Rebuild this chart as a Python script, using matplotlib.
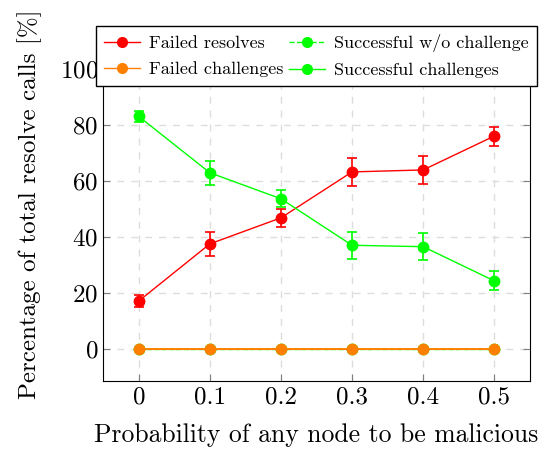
import matplotlib.pyplot as plt
from matplotlib.lines import Line2D

plt.rcParams['font.family'] = ['cmr10', 'DejaVu Serif']
plt.rcParams['axes.formatter.use_mathtext'] = True
plt.rcParams['mathtext.fontset'] = 'cm'

p = [0, 0.1, 0.2, 0.3, 0.4, 0.5]
failed_resolves = [17.1, 37.5, 46.8, 63.2, 63.9, 76.0]
failed_resolves_err = [2.0, 4.2, 3.1, 4.9, 4.9, 3.4]
failed_challenges = [0, 0, 0, 0, 0, 0]
failed_challenges_err = [0, 0, 0, 0, 0, 0]
success_wo = [0, 0, 0, 0, 0, 0]
success_wo_err = [0, 0, 0, 0, 0, 0]
success_ch = [83.0, 62.9, 53.6, 37.0, 36.5, 24.3]
success_ch_err = [1.9, 4.2, 3.0, 4.8, 4.9, 3.4]

fig = plt.figure(figsize=(5.49, 4.51), dpi=100)
ax = fig.add_axes([0.188, 0.155, 0.777, 0.783])

def series(y, err, color, ls, z, lw=1):
    ax.errorbar(p, y, yerr=err, color=color, ls=ls, lw=lw, marker='o', ms=7.5,
                ecolor=color, elinewidth=1.2, capsize=3.5, capthick=1.2,
                zorder=z)
    return Line2D([], [], color=color, ls=ls, lw=1, marker='o', ms=7)

handles = {}
handles['Successful w/o challenge'] = series(success_wo, success_wo_err, '#00ff00', '--', 2)
handles['Failed resolves'] = series(failed_resolves, failed_resolves_err, '#ff0000', '-', 3)
handles['Successful challenges'] = series(success_ch, success_ch_err, '#00ff00', '-', 3)
handles['Failed challenges'] = series(failed_challenges, failed_challenges_err, '#ff8000', '-', 4, lw=1.4)

ax.set_xlim(-0.05, 0.55)
ax.set_ylim(-11.5, 114.6)
ax.set_xticks(p)
ax.set_xticklabels(['0', '0.1', '0.2', '0.3', '0.4', '0.5'])
ax.set_yticks([0, 20, 40, 60, 80, 100])
ax.tick_params(direction='in', length=5, color='#808080', labelsize=18,
               top=True, right=True)
ax.grid(True, ls=(0, (5, 5)), color='#dddddd', lw=1)
ax.set_axisbelow(True)
ax.set_xlabel('Probability of any node to be malicious', fontsize=18.5, labelpad=11)
ax.set_ylabel('Percentage of total resolve calls [%]', fontsize=18, labelpad=13)

order = ['Failed resolves', 'Failed challenges', 'Successful w/o challenge',
         'Successful challenges']
leg = ax.legend([handles[k] for k in order], order, ncol=2,
                loc='upper center', bbox_to_anchor=(0.5, 1.005), fontsize=13,
                frameon=True, fancybox=False, edgecolor='black', framealpha=1,
                handlelength=2.0, columnspacing=0.3, borderaxespad=0,
                handletextpad=0.5, labelspacing=0.55, borderpad=0.45)
leg.get_frame().set_linewidth(1)

fig.savefig('out.png', dpi=100)
